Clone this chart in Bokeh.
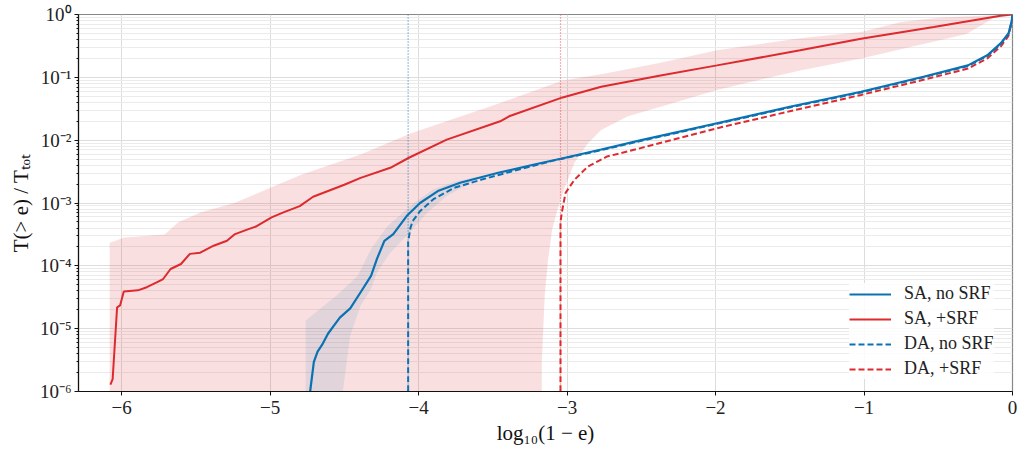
from bokeh.plotting import figure
from bokeh.models import (FixedTicker, CustomJSTickFormatter, Span, Legend,
                          LegendItem, Range1d)
from bokeh.embed import file_html
from bokeh.resources import INLINE

# ---------------- data ----------------
x_ticks = [-6, -5, -4, -3, -2, -1, 0]
y_ticks = [1e-6, 1e-5, 1e-4, 1e-3, 1e-2, 1e-1, 1e0]

# SA, no SRF (solid blue)
sa_nosrf_x = [-4.735, -4.73, -4.705, -4.68, -4.65, -4.61, -4.57, -4.53, -4.46, -4.39,
              -4.32, -4.28, -4.23, -4.17, -4.08, -3.99, -3.87, -3.72, -3.47, -3.22,
              -3.02, -2.77, -2.5, -1.99, -1.5, -1.02, -0.6, -0.30, -0.17, -0.08,
              -0.027, -0.005, 0.0]
sa_nosrf_y = [6.3e-7, 1.0e-6, 2.95e-6, 4.3e-6, 5.5e-6, 8.3e-6, 1.12e-5, 1.5e-5, 2.1e-5, 3.8e-5,
              6.9e-5, 1.29e-4, 2.5e-4, 3.2e-4, 6.2e-4, 1.0e-3, 1.55e-3, 2.1e-3, 3.0e-3, 4.1e-3,
              5.2e-3, 7.1e-3, 1.0e-2, 1.86e-2, 3.4e-2, 5.9e-2, 0.102, 0.155, 0.224, 0.347,
              0.50, 0.79, 1.0]

# SA, +SRF (solid red)
sa_srf_x = [-6.075, -6.06, -6.03, -6.01, -5.985, -5.89, -5.83, -5.76, -5.72, -5.67,
            -5.60, -5.54, -5.47, -5.38, -5.29, -5.24, -5.15, -5.09, -4.99, -4.91,
            -4.80, -4.71, -4.50, -4.39, -4.19, -4.065, -3.81, -3.45, -3.42, -3.39,
            -3.03, -2.77, -2.37, -1.99, -1.43, -1.02, -0.53, -0.08, 0.0]
sa_srf_y = [1.29e-6, 1.58e-6, 2.19e-5, 2.34e-5, 3.89e-5, 4.07e-5, 4.57e-5, 5.50e-5, 6.17e-5, 8.91e-5,
            1.07e-4, 1.55e-4, 1.62e-4, 2.09e-4, 2.51e-4, 3.16e-4, 3.80e-4, 4.27e-4, 5.89e-4, 7.08e-4,
            8.91e-4, 1.26e-3, 1.95e-3, 2.51e-3, 3.63e-3, 5.25e-3, 1.02e-2, 2.00e-2, 2.19e-2, 2.40e-2,
            4.79e-2, 7.08e-2, 0.107, 0.155, 0.269, 0.412, 0.631, 0.955, 1.0]

# DA, no SRF (dashed blue)
da_nosrf_x = [-4.07, -4.07, -4.055, -4.04, -3.99, -3.90, -3.76, -3.58, -3.36, -3.10,
              -2.77, -2.5, -1.99, -1.5, -1.02, -0.6, -0.30, -0.17, -0.08, -0.027,
              -0.005, 0.0]
da_nosrf_y = [1e-7, 2.40e-4, 3.98e-4, 5.13e-4, 7.41e-4, 1.15e-3, 1.74e-3, 2.34e-3, 3.24e-3, 4.68e-3,
              6.92e-3, 9.77e-3, 1.82e-2, 3.31e-2, 5.75e-2, 0.100, 0.151, 0.219, 0.339, 0.490,
              0.776, 1.0]

# DA, +SRF (dashed red)
da_srf_x = [-3.044, -3.044, -3.035, -3.01, -2.95, -2.86, -2.73, -2.51, -1.99, -1.50,
            -1.02, -0.60, -0.30, -0.17, -0.08, -0.027, -0.005, 0.0]
da_srf_y = [1e-7, 5.01e-4, 7.08e-4, 1.45e-3, 2.34e-3, 3.80e-3, 5.50e-3, 7.41e-3, 1.55e-2, 2.88e-2,
            5.25e-2, 9.12e-2, 0.138, 0.200, 0.309, 0.457, 0.759, 1.0]

# spread band of SA, +SRF
band_srf_hi_x = [-6.08, -5.98, -5.71, -5.62, -5.47, -5.24, -4.97, -4.79, -4.39, -4.05,
                 -3.45, -3.03, -2.77, -2.37, -1.99, -1.43, -1.02, -0.75, -0.5, -0.2, 0.0]
band_srf_hi_y = [2.34e-4, 2.82e-4, 3.16e-4, 4.90e-4, 7.08e-4, 1.0e-3, 1.86e-3, 2.82e-3, 5.89e-3, 1.29e-2,
                 3.89e-2, 8.91e-2, 0.112, 0.170, 0.269, 0.417, 0.525, 0.759, 0.891, 0.955, 1.0]
band_srf_lo_x = [-6.08, -3.17, -3.17, -3.17, -3.15, -3.13, -3.10, -3.07, -3.02, -2.95,
                 -2.86, -2.77, -2.59, -2.37, -1.99, -1.43, -1.02, -0.31, -0.13, 0.0]
band_srf_lo_y = [1e-7, 1e-7, 1e-6, 2.95e-6, 3.39e-5, 1.12e-4, 3.80e-4, 7.08e-4, 1.66e-3, 4.37e-3,
                 8.91e-3, 1.45e-2, 2.40e-2, 3.39e-2, 6.31e-2, 0.129, 0.200, 0.490, 0.871, 1.0]

# spread band of SA, no SRF
band_nosrf_hi_x = [-4.76, -4.76, -4.66, -4.55, -4.41, -4.32, -4.21, -4.03, -3.90, -3.75, -3.6]
band_nosrf_hi_y = [1e-7, 1.35e-5, 2.09e-5, 3.39e-5, 6.92e-5, 1.86e-4, 4.27e-4, 1.0e-3, 1.66e-3, 2.19e-3, 2.63e-3]
band_nosrf_lo_x = [-4.52, -4.51, -4.46, -4.39, -4.32, -4.28, -4.19, -4.08, -3.94, -3.81, -3.6]
band_nosrf_lo_y = [1e-7, 1e-6, 7.76e-6, 2.34e-5, 4.27e-5, 7.94e-5, 1.62e-4, 3.02e-4, 7.08e-4, 1.29e-3, 2.40e-3]

# vertical dotted markers
marker_da_nosrf = -4.07
marker_da_srf = -3.044

labels = ["SA, no SRF", "SA, +SRF", "DA, no SRF", "DA, +SRF"]

# ---------------- styling ----------------
BLUE = "#0a72b3"
RED = "#dd2a2e"
FONT = "Liberation Serif"

p = figure(width=1018, height=447, y_axis_type="log",
           x_range=Range1d(-6.29, 0), y_range=Range1d(1e-6, 1),
           output_backend="svg", toolbar_location=None,
           min_border_left=78, min_border_right=6, min_border_top=14, min_border_bottom=54)

p.background_fill_color = "white"
p.border_fill_color = "white"
p.outline_line_color = "#888888"
p.outline_line_width = 1.2

# grids
p.xgrid.grid_line_color = "#dddddd"
p.ygrid.grid_line_color = "#dddddd"
p.ygrid.minor_grid_line_color = "#ebebeb"

minor = []
for k in range(len(y_ticks) - 1):
    for m in range(2, 10):
        minor.append(y_ticks[k] * m)

p.yaxis.ticker = FixedTicker(ticks=y_ticks, minor_ticks=minor)
p.xaxis.ticker = FixedTicker(ticks=x_ticks)
p.ygrid.ticker = p.yaxis.ticker
p.xgrid.ticker = p.xaxis.ticker

p.yaxis.formatter = CustomJSTickFormatter(code="""
const sup = {'-':'\u207b','0':'\u2070','1':'\u00b9','2':'\u00b2','3':'\u00b3','4':'\u2074',
             '5':'\u2075','6':'\u2076','7':'\u2077','8':'\u2078','9':'\u2079'};
const e = Math.round(Math.log10(tick));
return '10' + String(e).split('').map(c => sup[c]).join('');
""")
p.xaxis.formatter = CustomJSTickFormatter(code="""
return tick < 0 ? '\u2212' + Math.abs(tick) : String(tick);
""")

for ax in (p.xaxis, p.yaxis):
    ax.axis_line_color = "#111111"
    ax.axis_line_width = 1.2
    ax.major_tick_line_color = "#111111"
    ax.major_tick_in = 0
    ax.major_tick_out = 4
    ax.major_label_text_font = FONT
    ax.major_label_text_font_size = "19px"
    ax.major_label_text_color = "#222222"
    ax.axis_label_text_font = FONT
    ax.axis_label_text_font_size = "21px"
    ax.axis_label_text_font_style = "normal"
    ax.axis_label_text_color = "#111111"

p.xaxis.minor_tick_line_color = None
p.yaxis.minor_tick_line_color = "#111111"
p.yaxis.minor_tick_in = 0
p.yaxis.minor_tick_out = 2
p.xaxis.major_label_standoff = 5
p.yaxis.major_label_standoff = 3
p.xaxis.axis_label_standoff = 4
p.yaxis.axis_label_standoff = 4

p.xaxis.axis_label = "log\u2081\u2080(1 \u2212 e)"
p.yaxis.axis_label = "T(> e) / T\u209c\u2092\u209c"

# bands
p.patch(x=band_srf_hi_x + band_srf_lo_x[::-1], y=band_srf_hi_y + band_srf_lo_y[::-1],
        fill_color=RED, fill_alpha=0.15, line_color=None)
p.patch(x=band_nosrf_hi_x + band_nosrf_lo_x[::-1], y=band_nosrf_hi_y + band_nosrf_lo_y[::-1],
        fill_color=BLUE, fill_alpha=0.1, line_color=None)

# dotted markers
p.add_layout(Span(location=marker_da_nosrf, dimension="height", line_color=BLUE,
                  line_dash="1 2", line_width=1.2, line_alpha=0.8))
p.add_layout(Span(location=marker_da_srf, dimension="height", line_color=RED,
                  line_dash="1 2", line_width=1.2, line_alpha=0.7))

# lines
r_da_srf = p.line(da_srf_x, da_srf_y, line_color=RED, line_width=2, line_dash="6 3")
r_da_nosrf = p.line(da_nosrf_x, da_nosrf_y, line_color=BLUE, line_width=2, line_dash="6 3")
r_sa_srf = p.line(sa_srf_x, sa_srf_y, line_color=RED, line_width=2)
r_sa_nosrf = p.line(sa_nosrf_x, sa_nosrf_y, line_color=BLUE, line_width=2.2)

legend = Legend(items=[LegendItem(label=labels[0], renderers=[r_sa_nosrf]),
                       LegendItem(label=labels[1], renderers=[r_sa_srf]),
                       LegendItem(label=labels[2], renderers=[r_da_nosrf]),
                       LegendItem(label=labels[3], renderers=[r_da_srf])],
                location=(771, 12))
legend.border_line_color = None
legend.background_fill_color = "white"
legend.background_fill_alpha = 0.85
legend.label_text_font = FONT
legend.label_text_font_size = "18px"
legend.label_text_color = "#222222"
legend.glyph_width = 42
legend.glyph_height = 20
legend.spacing = 4
legend.padding = 8
legend.label_standoff = 13
legend.margin = 0
p.add_layout(legend, "center")

open("out.html", "w").write(file_html(p, INLINE))
